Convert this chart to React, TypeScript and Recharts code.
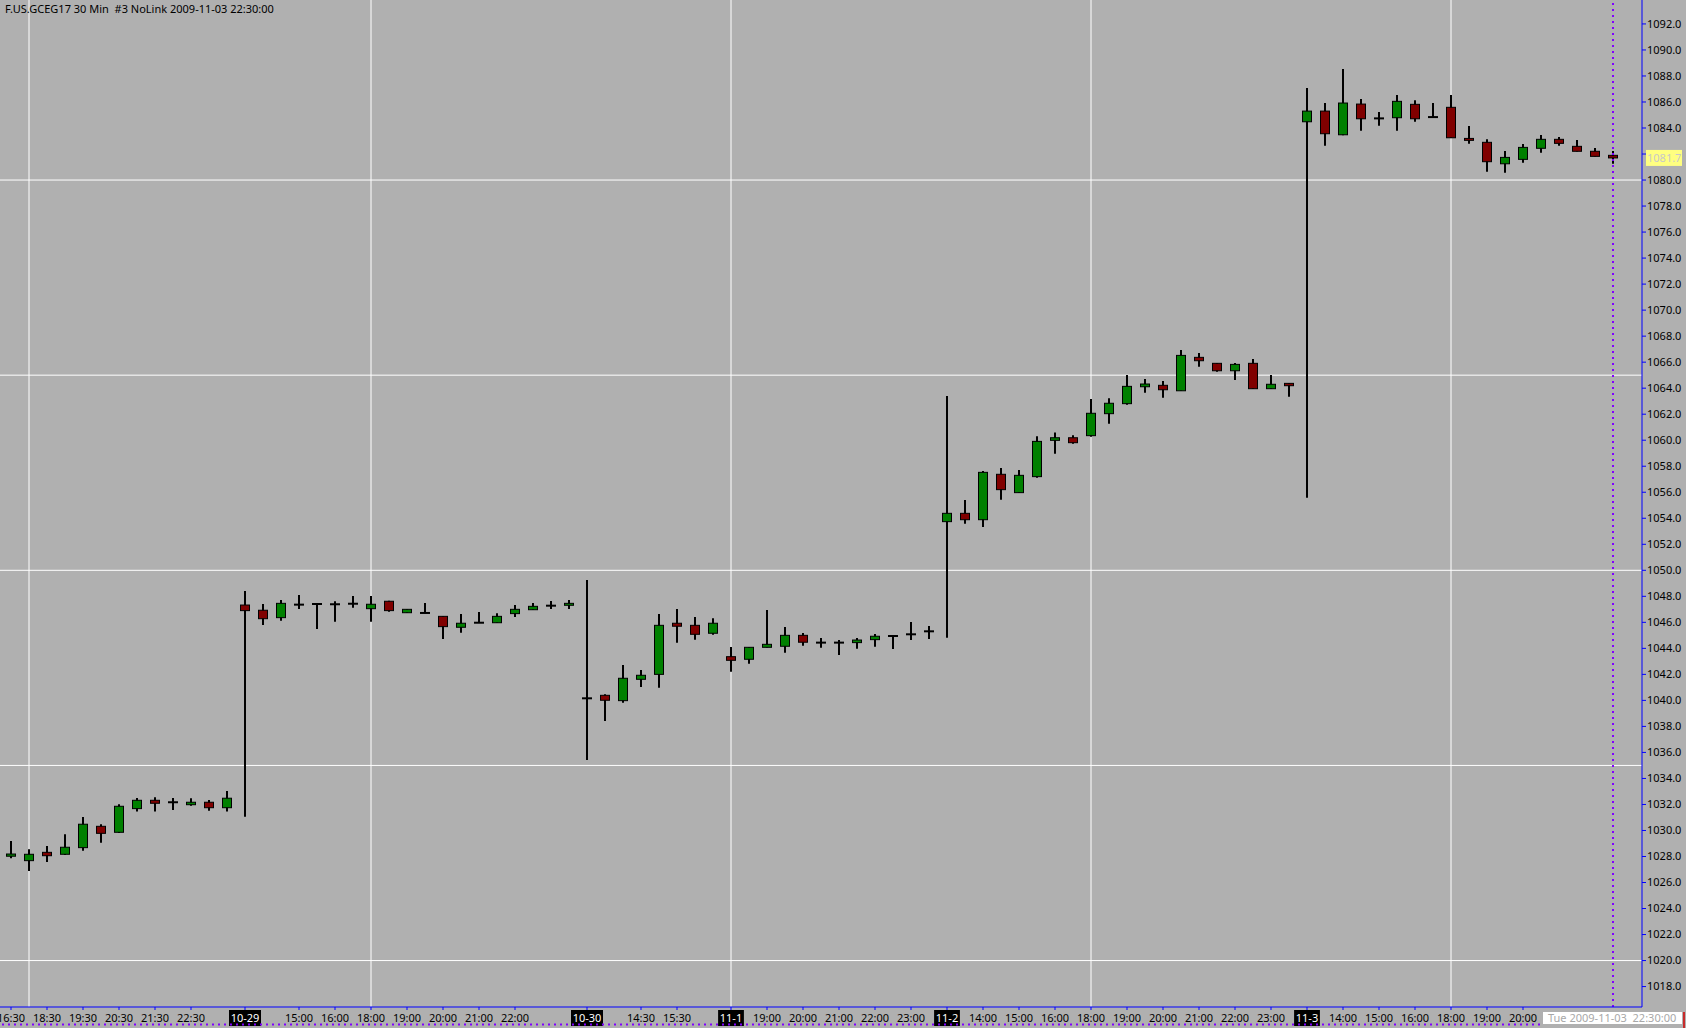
import { ComposedChart, Bar, XAxis, YAxis, ReferenceLine } from 'recharts'

// 30 min bars, 2009-10-28 .. 2009-11-03
const times = [
  '16:30', '18:00', '18:30', '19:00', '19:30', '20:00', '20:30', '21:00', '21:30', '22:00', '22:30', '23:00', '23:30',
  '13:30', '14:00', '14:30', '15:00', '15:30', '16:00', '16:30', '18:00', '18:30', '19:00', '19:30', '20:00', '20:30',
  '21:00', '21:30', '22:00', '22:30', '23:00', '23:30',
  '13:00', '13:30', '14:00', '14:30', '15:00', '15:30', '16:00', '16:30',
  '18:00', '18:30', '19:00', '19:30', '20:00', '20:30', '21:00', '21:30', '22:00', '22:30', '23:00', '23:30',
  '13:00', '13:30', '14:00', '14:30', '15:00', '15:30', '16:00', '16:30', '18:00', '18:30', '19:00', '19:30', '20:00',
  '20:30', '21:00', '21:30', '22:00', '22:30', '23:00', '23:30',
  '13:00', '13:30', '14:00', '14:30', '15:00', '15:30', '16:00', '16:30', '18:00', '18:30', '19:00', '19:30', '20:00',
  '20:30', '21:00', '21:30', '22:00', '22:30',
]

const opens = [
  1028.02, 1027.68, 1028.32, 1028.17, 1028.68, 1030.32, 1029.86, 1031.68, 1032.32, 1032.17, 1031.98, 1032.17, 1031.75,
  1047.33, 1046.93, 1046.36, 1047.36, 1047.41, 1047.39, 1047.43, 1047.05, 1047.62, 1046.74, 1046.72, 1046.46, 1045.62,
  1045.97, 1045.97, 1046.67, 1046.97, 1047.28, 1047.31,
  1040.16, 1040.39, 1039.98, 1041.62, 1042.0, 1045.93, 1045.77, 1045.16,
  1043.36, 1043.16, 1044.08, 1044.16, 1045.0, 1044.44, 1044.44, 1044.44, 1044.67, 1044.95, 1045.08, 1045.31,
  1053.74, 1054.38, 1053.89, 1057.38, 1055.97, 1057.2, 1059.99, 1060.19, 1060.35, 1062.04, 1062.81, 1064.11, 1064.22,
  1063.8, 1066.37, 1065.91, 1065.34, 1065.91, 1063.96, 1064.37,
  1084.48, 1085.3, 1083.48, 1085.84, 1084.74, 1084.79, 1085.82, 1084.84, 1085.59, 1083.2, 1082.9, 1081.25, 1081.59,
  1082.44, 1083.13, 1082.59, 1082.21, 1081.9,
]

const highs = [
  1029.19, 1028.56, 1028.81, 1029.71, 1031.04, 1030.48, 1032.01, 1032.5, 1032.55, 1032.5, 1032.48, 1032.34, 1033.04,
  1048.41, 1047.41, 1047.72, 1048.1, 1047.45, 1047.62, 1048.02, 1048.02, 1047.65, 1047.02, 1047.49, 1046.48, 1046.64,
  1046.79, 1046.69, 1047.33, 1047.49, 1047.64, 1047.72,
  1049.25, 1040.47, 1042.72, 1042.34, 1046.64, 1047.03, 1046.41, 1046.31,
  1044.1, 1044.1, 1046.95, 1045.64, 1045.18, 1044.8, 1044.64, 1044.8, 1045.1, 1044.97, 1046.03, 1045.72,
  1063.4, 1055.4, 1057.63, 1057.86, 1057.71, 1060.3, 1060.6, 1060.38, 1063.17, 1063.22, 1065.01, 1064.7, 1064.55,
  1066.93, 1066.7, 1065.93, 1065.93, 1066.24, 1065.01, 1064.4,
  1087.07, 1085.92, 1088.53, 1086.23, 1085.23, 1086.53, 1086.13, 1085.92, 1086.53, 1084.15, 1083.13, 1082.23, 1082.77,
  1083.46, 1083.31, 1083.07, 1082.46, 1082.23,
]

const lows = [
  1027.86, 1026.89, 1027.58, 1028.12, 1028.45, 1029.06, 1029.8, 1031.45, 1031.45, 1031.58, 1031.91, 1031.52, 1031.45,
  1031.06, 1045.8, 1046.13, 1047.03, 1045.49, 1046.05, 1047.13, 1046.05, 1046.82, 1046.72, 1046.7, 1044.72, 1045.2,
  1045.95, 1045.95, 1046.41, 1046.95, 1047.03, 1047.03,
  1035.42, 1038.42, 1039.82, 1041.03, 1040.98, 1044.44, 1044.67, 1045.05,
  1042.21, 1042.82, 1044.06, 1043.67, 1044.2, 1044.05, 1043.49, 1043.97, 1044.13, 1043.95, 1044.64, 1044.72,
  1044.82, 1053.58, 1053.33, 1055.43, 1055.95, 1057.12, 1058.96, 1059.73, 1060.27, 1061.27, 1062.73, 1063.65, 1063.27,
  1063.78, 1065.65, 1065.27, 1064.63, 1063.94, 1063.94, 1063.34,
  1055.58, 1082.64, 1083.45, 1083.79, 1084.17, 1083.79, 1084.48, 1084.82, 1083.23, 1082.79, 1080.64, 1080.56, 1081.33,
  1082.1, 1082.64, 1082.2, 1081.8, 1081.25,
]

const closes = [
  1028.19, 1028.17, 1028.06, 1028.71, 1030.48, 1029.78, 1031.86, 1032.32, 1032.09, 1032.17, 1032.17, 1031.75, 1032.48,
  1046.9, 1046.28, 1047.46, 1047.36, 1047.41, 1047.39, 1047.43, 1047.39, 1046.9, 1047.0, 1046.72, 1045.67, 1045.93,
  1045.97, 1046.46, 1047.0, 1047.23, 1047.28, 1047.46,
  1040.16, 1040.01, 1041.7, 1041.93, 1045.77, 1045.7, 1045.08, 1045.93,
  1043.08, 1044.08, 1044.31, 1045.0, 1044.47, 1044.44, 1044.44, 1044.64, 1044.93, 1044.95, 1045.08, 1045.31,
  1054.38, 1053.89, 1057.53, 1056.2, 1057.3, 1059.91, 1060.19, 1059.81, 1062.07, 1062.84, 1064.14, 1064.32, 1063.88,
  1066.52, 1066.11, 1065.34, 1065.83, 1063.96, 1064.3, 1064.19,
  1085.3, 1083.56, 1085.92, 1084.71, 1084.74, 1086.05, 1084.71, 1084.84, 1083.25, 1083.05, 1081.41, 1081.74, 1082.51,
  1083.13, 1082.82, 1082.21, 1081.82, 1081.7,
]

// axis labels
const dateTicks = [13, 32, 40, 52, 72]
const dateLabels = ['10-29', '10-30', '11-1', '11-2', '11-3']
const timeTicks = [0, 2, 4, 6, 8, 10, 16, 18, 20, 22, 24, 26, 28, 35, 37, 42, 44, 46, 48, 50, 54, 56, 58, 60, 62, 64, 66, 68, 70, 74, 76, 78, 80, 82, 84]
const priceTicks = [
  1018, 1020, 1022, 1024, 1026, 1028, 1030, 1032, 1034, 1036, 1038, 1040, 1042, 1044, 1046, 1048, 1050, 1052, 1054,
  1056, 1058, 1060, 1062, 1064, 1066, 1068, 1070, 1072, 1074, 1076, 1078, 1080, 1082, 1084, 1086, 1088, 1090, 1092,
]
const gridPrices = [1080, 1065, 1050, 1035, 1020]
const gridBars = [1, 20, 40, 60, 80]
const lastPrice = 1081.7

const data = times.map((t, i) => ({
  i,
  t,
  open: opens[i],
  high: highs[i],
  low: lows[i],
  close: closes[i],
  range: [lows[i], highs[i]],
}))

const W = 1686
const H = 1028
const X_AXIS_H = 21
const Y_AXIS_W = 44
const Y_MIN = 1016.43
const Y_MAX = 1093.84
const FONT = '"Noto Sans", "Open Sans", sans-serif'
const BG = '#b0b0b0'
const AXIS = '#0000ff'

function Candle(props: any) {
  const { x, y, width, height, payload } = props
  const cx = Math.round(x + width / 2)
  const top = Math.min(y, y + height)
  const bot = Math.max(y, y + height)
  const span = payload.high - payload.low
  const k = span > 0 ? (bot - top) / span : 0
  const py = (v: number) => top + (payload.high - v) * k
  const yo = py(payload.open)
  const yc = py(payload.close)
  const up = payload.close > payload.open
  const bTop = Math.min(yo, yc)
  const bH = Math.abs(yo - yc)
  return (
    <g>
      <line x1={cx} x2={cx} y1={top} y2={bot} stroke="#000" strokeWidth={2} />
      {bH < 1.5 ? (
        <line x1={cx - 5} x2={cx + 5} y1={yo} y2={yo} stroke="#000" strokeWidth={2} />
      ) : (
        <rect x={cx - 4.5} y={bTop} width={9} height={bH} fill={up ? '#008000' : '#800000'} stroke="#000" strokeWidth={1} />
      )}
    </g>
  )
}

function TimeTick(props: any) {
  const { x, y, payload } = props
  const i = payload.value
  const d = dateTicks.indexOf(i)
  if (d < 0 && !timeTicks.includes(i)) return <g />
  const axisY = y - 3
  const label = d >= 0 ? dateLabels[d] : times[i]
  const w = label.length * 6.2 + 1
  return (
    <g>
      <line x1={x} x2={x} y1={axisY} y2={axisY + 3} stroke={AXIS} />
      {d >= 0 && <rect x={x - w / 2} y={axisY + 3} width={w} height={16} fill="#000" />}
      <text x={x} y={axisY + 15} textAnchor="middle" fontSize={11} fontFamily={FONT} fill={d >= 0 ? '#fff' : '#000'}>
        {label}
      </text>
    </g>
  )
}

// price labels; the last-price tag is drawn with the nearest tick so it sits above the axis text
function PriceTick(props: any) {
  const { x, y, payload } = props
  const v = payload.value as number
  const showTag = v === Math.round(lastPrice / 2) * 2
  const k = (H - X_AXIS_H) / (Y_MAX - Y_MIN)
  const ty = y + (v - lastPrice) * k
  return (
    <g>
      <text x={x} y={y} dy="0.355em" fontSize={11} fontFamily={FONT} fill="#000">
        {v.toFixed(1)}
      </text>
      {showTag && (
        <g>
          <rect x={x - 1} y={ty - 8} width={36} height={16} fill="#ffff80" />
          <text x={x} y={ty} dy="0.355em" fontSize={11} fontFamily={FONT} fill="#c8c8c8">
            {lastPrice.toFixed(1)}
          </text>
        </g>
      )}
    </g>
  )
}

const layerStyle = { position: 'absolute' as const, left: 0, top: 0 }

export default function App() {
  return (
    <div style={{ position: 'absolute', left: 0, top: 0, width: W, height: H, background: BG, overflow: 'hidden' }}>
      {/* grid layer, same plot box as the price chart, drawn underneath the candles */}
      <div style={layerStyle}>
        <ComposedChart width={W} height={H} data={data} margin={{ top: 0, right: Y_AXIS_W, bottom: X_AXIS_H, left: 0 }}>
          <XAxis dataKey="i" type="category" scale="band" hide padding={{ left: 2, right: 20 }} />
          <YAxis type="number" hide domain={[Y_MIN, Y_MAX]} allowDataOverflow />
          {gridPrices.map((p) => (
            <ReferenceLine key={'h' + p} y={p} stroke="#ffffff" strokeWidth={1} />
          ))}
          {gridBars.map((b) => (
            <ReferenceLine key={'v' + b} x={b} stroke="#ffffff" strokeWidth={1} />
          ))}
        </ComposedChart>
      </div>

      <div style={layerStyle}>
        <ComposedChart width={W} height={H} data={data} margin={{ top: 0, right: 0, bottom: 0, left: 0 }}>
          <XAxis
            dataKey="i"
            type="category"
            scale="band"
            interval={0}
            height={X_AXIS_H}
            padding={{ left: 2, right: 20 }}
            stroke={AXIS}
            tickLine={false}
            tickSize={3}
            tickMargin={0}
            tick={<TimeTick />}
          />
          <YAxis
            orientation="right"
            type="number"
            width={Y_AXIS_W}
            domain={[Y_MIN, Y_MAX]}
            ticks={priceTicks}
            interval={0}
            allowDataOverflow
            stroke={AXIS}
            tickSize={4}
            tickMargin={1}
            tick={<PriceTick />}
          />
          <Bar dataKey="range" shape={Candle} isAnimationActive={false} />
          <ReferenceLine x={89} stroke="#8000ff" strokeWidth={2} strokeDasharray="2 4" />
        </ComposedChart>
      </div>

      <div style={{ position: 'absolute', left: 5, top: 1, fontFamily: FONT, fontSize: 11, color: '#000', whiteSpace: 'pre' }}>
        {'F.US.GCEG17 30 Min  #3 NoLink 2009-11-03 22:30:00'}
      </div>

      <svg width={W} height={H} style={{ position: 'absolute', left: 0, top: 0, pointerEvents: 'none' }}>
        <line x1={2} x2={1540} y1={1024.5} y2={1024.5} stroke="#8000ff" strokeWidth={2} strokeDasharray="2 4" />
        <rect x={1543} y={1012} width={139} height={12} fill="#ffffff" />
        <text x={1548} y={1022} fontSize={11} fontFamily={FONT} fill="#a8a8a8" style={{ whiteSpace: 'pre' }}>
          {'Tue 2009-11-03  22:30:00'}
        </text>
        <line x1={1684} x2={1684} y1={1012} y2={1028} stroke="#d00000" strokeWidth={1.5} />
      </svg>
    </div>
  )
}
